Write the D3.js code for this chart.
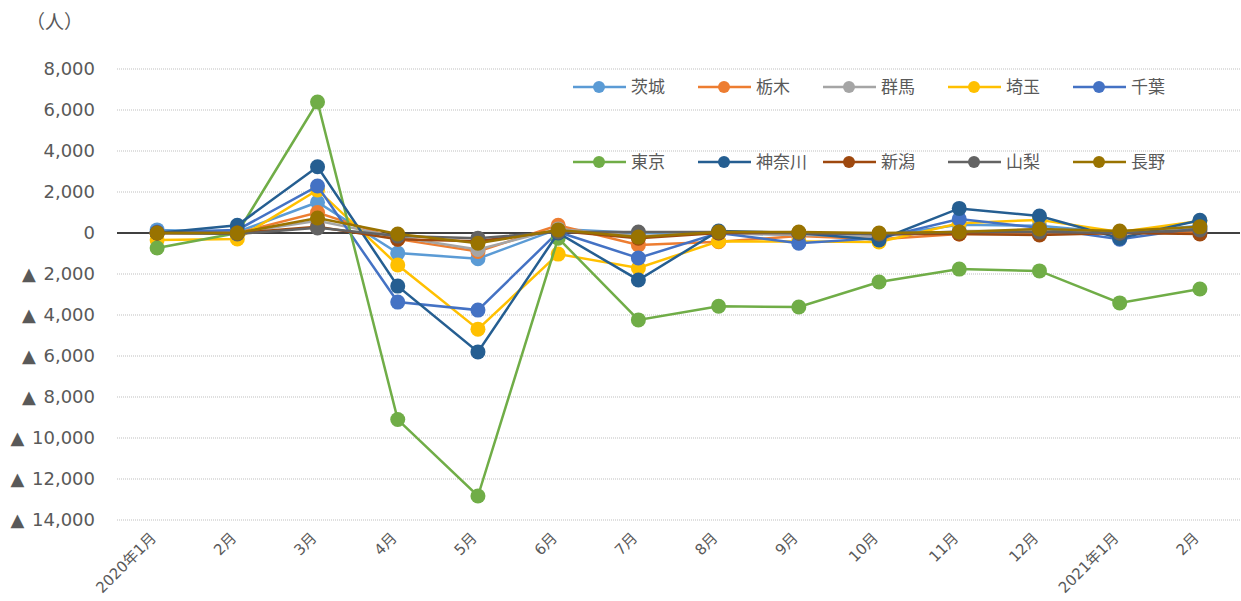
<!DOCTYPE html>
<html>
<head>
<meta charset="utf-8">
<script src="https://cdn.jsdelivr.net/npm/d3@7"></script>
<style>
  body { margin: 0; background: #fff; }
  text { font-family: 'DejaVu Sans', 'Noto Sans CJK JP', sans-serif; fill: #595959; }
</style>
</head>
<body>
<svg id="chart" width="1241" height="601"></svg>
<script>
// months on the x axis
const months = ["2020年1月", "2月", "3月", "4月", "5月", "6月", "7月", "8月", "9月", "10月", "11月", "12月", "2021年1月", "2月 "]
const yTicks = [8000, 6000, 4000, 2000, 0, -2000, -4000, -6000, -8000, -10000, -12000, -14000]

// prefectures, in legend order
const names = ["茨城", "栃木", "群馬", "埼玉", "千葉", "東京", "神奈川", "新潟", "山梨", "長野"]
const colors = ["#5B9BD5", "#ED7D31", "#A5A5A5", "#FFC000", "#4472C4", "#70AD47", "#255E91", "#9E480E", "#636363", "#997300"]

// monthly change (people)
const ibaraki  = [150, 50, 1500, -980, -1250, 200, 0, 0, -100, -150, 400, 350, 0, 350]
const tochigi  = [0, 0, 1000, -300, -900, 380, -580, -430, -150, -300, -50, -50, 0, 50]
const gunma    = [0, 0, 600, -200, -800, 200, -150, 0, -100, -150, 100, 100, 0, 200]
const saitama  = [-340, -290, 2100, -1560, -4690, -1030, -1710, -400, -420, -440, 480, 640, 50, 580]
const chiba    = [50, 150, 2290, -3370, -3760, 50, -1220, 0, -500, -250, 680, 250, -300, 250]
const tokyo    = [-730, 0, 6390, -9100, -12830, -250, -4240, -3570, -3610, -2390, -1760, -1850, -3410, -2730]
const kanagawa = [0, 380, 3230, -2590, -5800, 0, -2290, 100, 0, -340, 1200, 830, -250, 620]
const niigata  = [0, 0, 300, -300, -400, 100, -250, 0, 0, -50, -50, -100, 0, -50]
const yamanashi = [0, -50, 250, -150, -250, 50, 50, 50, 0, -50, 50, 50, 0, 150]
const nagano   = [0, 0, 730, -50, -500, 150, -200, 50, 50, 0, 50, 200, 100, 300]

const series = [ibaraki, tochigi, gunma, saitama, chiba, tokyo, kanagawa, niigata, yamanashi, nagano]

const svg = d3.select("#chart")

const x = d3.scalePoint()
  .domain(months)
  .range([117, 1240])
  .padding(0.5)

const y = d3.scaleLinear()
  .domain([-14000, 8000])
  .range([520, 69])

const fmt = d3.format(",")

// gridlines
svg.append("g")
  .selectAll("line")
  .data(yTicks.filter(d => d !== 0))
  .enter()
  .append("line")
  .attr("x1", 117)
  .attr("x2", 1240)
  .attr("y1", d => y(d))
  .attr("y2", d => y(d))
  .attr("stroke", "#bfbfbf")
  .attr("stroke-width", 1)
  .attr("stroke-dasharray", "1,1")

// y labels
svg.append("g")
  .selectAll("text")
  .data(yTicks)
  .enter()
  .append("text")
  .attr("x", 95)
  .attr("y", d => y(d))
  .attr("dy", "0.36em")
  .attr("text-anchor", "end")
  .style("font-size", "18px")
  .style("word-spacing", "2px")
  .text(d => d < 0 ? "▲ " + fmt(-d) : fmt(d))

svg.append("text")
  .attr("x", 26)
  .attr("y", 29)
  .style("font-family", "'Noto Sans CJK JP', sans-serif")
  .style("font-size", "19px")
  .text("（人）")

// zero line
svg.append("line")
  .attr("x1", 117)
  .attr("x2", 1240)
  .attr("y1", y(0))
  .attr("y2", y(0))
  .attr("stroke", "#000")
  .attr("stroke-width", 1.5)

// x labels, rotated
svg.append("g")
  .selectAll("text")
  .data(months)
  .enter()
  .append("text")
  .attr("text-anchor", "end")
  .attr("transform", d => `translate(${x(d)},539) rotate(-45)`)
  .style("font-size", "15px")
  .text(d => d.trim())

// lines and markers
const line = d3.line()
  .x((d, i) => x(months[i]))
  .y(d => y(d))

const g = svg.append("g")
series.forEach((s, k) => {
  const sg = g.append("g")
  sg.append("path")
    .datum(s)
    .attr("d", line)
    .attr("fill", "none")
    .attr("stroke", colors[k])
    .attr("stroke-width", 2.5)
  sg.selectAll("circle")
    .data(s)
    .enter()
    .append("circle")
    .attr("cx", (d, i) => x(months[i]))
    .attr("cy", d => y(d))
    .attr("r", 7.5)
    .attr("fill", colors[k])
})

// legend, two rows of five
const legend = svg.append("g")
  .selectAll("g")
  .data(names)
  .enter()
  .append("g")
  .attr("transform", (d, i) => `translate(${599 + (i % 5) * 125},${i < 5 ? 87 : 162})`)

legend.append("line")
  .attr("x1", -26)
  .attr("x2", 27)
  .attr("stroke", (d, i) => colors[i])
  .attr("stroke-width", 2.5)
legend.append("circle")
  .attr("r", 6)
  .attr("fill", (d, i) => colors[i])
legend.append("text")
  .attr("x", 32)
  .attr("dy", "0.36em")
  .style("font-size", "17px")
  .text(d => d)
</script>
</body>
</html>
